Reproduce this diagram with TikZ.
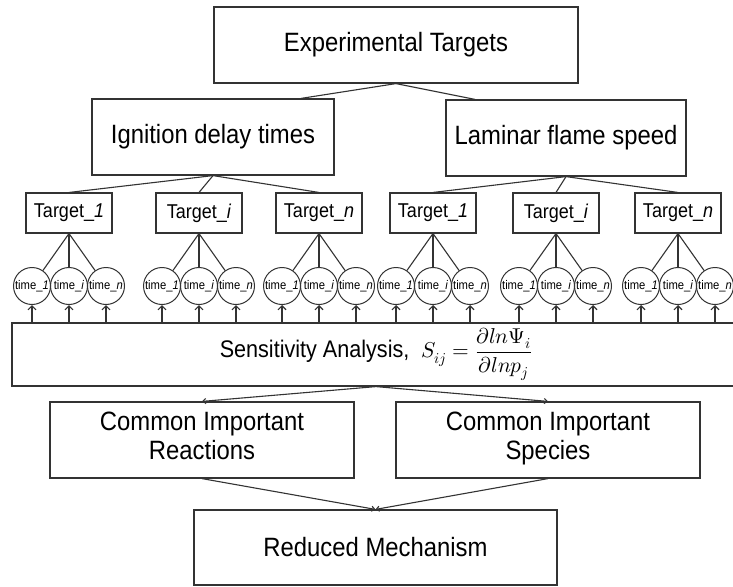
\documentclass[tikz,border=0pt]{standalone}
\usepackage{fontspec}
\usepackage{unicode-math}
\setmainfont{Liberation Sans}[FakeStretch=0.9]
\setmathfont{Latin Modern Math}
\usetikzlibrary{arrows.meta,calc}
\definecolor{lc}{HTML}{333333}
\begin{document}
\begin{tikzpicture}[x=1pt,y=-1pt,
  box/.style={draw=lc, line width=1.2pt, inner sep=0pt, align=center, font=\fontsize{26.5}{29}\selectfont},
  tbox/.style={draw=lc, line width=1.1pt, minimum width=86pt, minimum height=40pt, inner sep=0pt, font=\fontsize{20}{22}\selectfont},
  tcirc/.style={circle, draw=lc, line width=1pt, minimum size=37pt, inner sep=0pt, font=\fontsize{12.5}{13}\selectfont},
  link/.style={draw=lc, line width=1.1pt},
  up/.style={link, -{Straight Barb[length=4pt,width=8pt]}},
  flow/.style={link, -{Straight Barb[length=3pt,width=5pt]}}]
\useasboundingbox[fill=white] (0,0) rectangle (733,586);

\node[box, minimum width=364pt, minimum height=76pt] (exp) at (396,45) {Experimental Targets};
\node[box, minimum width=242pt, minimum height=76pt] (ign) at (213,137) {Ignition delay times};
\node[box, minimum width=240pt, minimum height=76pt] (lam) at (566,138) {Laminar flame speed};
\draw[link] (exp.south) -- ([xshift=88pt]ign.north);
\draw[link] (exp.south) -- ([xshift=-91pt]lam.north);

\node[box, minimum width=728pt, minimum height=63pt, font=\fontsize{24}{28}\selectfont] (sens) at (376,354.5)
  {Sensitivity Analysis,\ \ {\fontsize{21.5}{24}\selectfont$S_{ij}=\displaystyle\frac{\partial ln\Psi_i}{\partial lnp_j}$}};

\foreach \n/\x/\lab/\p in {t1/69/1/ign, t2/199/i/ign, t3/319/n/ign, t4/433/1/lam, t5/556/i/lam, t6/678/n/lam} {
  \node[tbox] (\n) at (\x,213) {Target\_\textit{\lab}};
  \draw[link] (\p.south) -- (\n.north);
  \foreach \k/\dx/\cl in {a/-37/1, b/0/i, c/37/n} {
    \node[tcirc] (\n\k) at (\x+\dx,286) {time\_\textit{\cl}};
    \draw[link] (\n.south) -- (\n\k);
    \draw[up] (\n\k |- sens.north) -- (\n\k.south);
  }
}

\node[box, minimum width=304pt, minimum height=76pt] (reac) at (202,440) {Common Important\\Reactions\strut};
\node[box, minimum width=304pt, minimum height=76pt] (spec) at (548,440) {Common Important\\Species\strut};
\node[box, minimum width=363pt, minimum height=75pt] (red) at (375.5,547.5) {Reduced Mechanism};
\draw[flow] (sens.south) -- (reac.north);
\draw[flow] (sens.south) -- (spec.north);
\draw[flow] (reac.south) -- (red.north);
\draw[flow] (spec.south) -- (red.north);
\end{tikzpicture}
\end{document}
